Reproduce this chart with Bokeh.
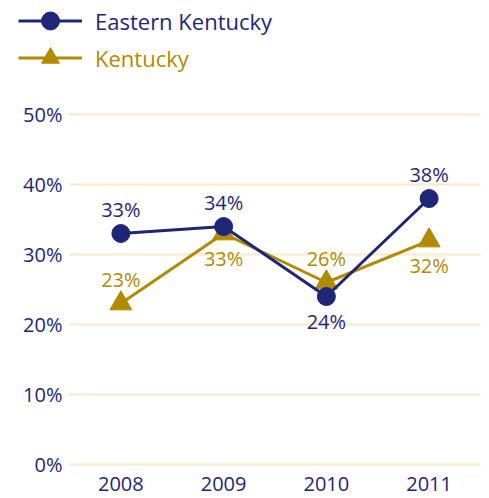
from bokeh.plotting import figure
from bokeh.models import ColumnDataSource, Legend, LegendItem, FixedTicker, CustomJSTickFormatter, Range1d
from bokeh.core.properties import value
from bokeh.embed import file_html
from bokeh.resources import INLINE

years = [2008, 2009, 2010, 2011]
eastern = [33, 34, 24, 38]
kentucky = [23, 33, 26, 32]
eastern_label_offsets = [-24, -24, 25, -24]
kentucky_label_offsets = [-24, 25, -24, 25]
y_ticks = [0, 10, 20, 30, 40, 50]
y_tick_labels = [f"{t}%" for t in y_ticks]
series_names = ["Eastern Kentucky", "Kentucky"]

NAVY = "#1f2577"
GOLD = "#b08a00"
GRID = "#fbe8cb"
FONT = "Open Sans"

# plotted span of the category axis (gridlines run across it)
X_LO, X_HI = 2007.5, 2011.5

p = figure(width=489, height=498, frame_width=489, frame_height=478,
           min_border_left=0, min_border_top=0, min_border_right=0, min_border_bottom=20,
           x_range=Range1d(2006.8285, 2011.5876), y_range=Range1d(-2.0, 66.29),
           y_axis_location=None,
           output_backend="svg", toolbar_location=None)
p.outline_line_color = None
p.xgrid.grid_line_color = None
p.ygrid.grid_line_color = None

p.xaxis.ticker = FixedTicker(ticks=years)
p.xaxis.formatter = CustomJSTickFormatter(code="return String(tick);")
p.xaxis.axis_line_color = None
p.xaxis.major_tick_line_color = None
p.xaxis.minor_tick_line_color = None
p.xaxis.major_label_text_color = NAVY
p.xaxis.major_label_text_font = FONT
p.xaxis.major_label_text_font_size = "20px"
p.xaxis.major_label_standoff = -8

# horizontal gridlines and their labels
grid_src = ColumnDataSource(dict(x0=[X_LO] * len(y_ticks), x1=[X_HI] * len(y_ticks),
                                 y=y_ticks, lab=y_tick_labels))
p.segment("x0", "y", "x1", "y", source=grid_src, line_color=GRID, line_width=2)
p.text("x0", "y", text="lab", source=grid_src, x_offset=-7, text_align="right", text_baseline="middle",
       text_color=NAVY, text_font=value(FONT), text_font_size="20px")

src_e = ColumnDataSource(dict(x=years, y=eastern, lab=[f"{v}%" for v in eastern], off=eastern_label_offsets))
src_k = ColumnDataSource(dict(x=years, y=kentucky, lab=[f"{v}%" for v in kentucky], off=kentucky_label_offsets))

lk = p.line("x", "y", source=src_k, line_color=GOLD, line_width=3)
mk = p.scatter("x", "y", source=src_k, marker="triangle", size=22, fill_color=GOLD, line_color=GOLD)
le = p.line("x", "y", source=src_e, line_color=NAVY, line_width=3)
me = p.scatter("x", "y", source=src_e, marker="circle", size=18, fill_color=NAVY, line_color=NAVY)

p.text("x", "y", text="lab", source=src_e, y_offset="off", text_align="center", text_baseline="middle",
       text_color=NAVY, text_font=value(FONT), text_font_size="20px")
p.text("x", "y", text="lab", source=src_k, y_offset="off", text_align="center", text_baseline="middle",
       text_color=GOLD, text_font=value(FONT), text_font_size="20px")

common = dict(orientation="vertical", glyph_width=64, glyph_height=45, label_height=45,
              label_standoff=13, padding=0, margin=0, border_line_color=None,
              background_fill_alpha=0, label_text_font=FONT, label_text_font_size="22px",
              label_text_baseline="middle")
leg1 = Legend(items=[LegendItem(label=series_names[0], renderers=[le, me])],
              location=(18, 435), label_text_color=NAVY, **common)
leg2 = Legend(items=[LegendItem(label=series_names[1], renderers=[lk, mk])],
              location=(18, 398), label_text_color=GOLD, **common)
p.add_layout(leg1)
p.add_layout(leg2)

open("out.html", "w").write(file_html(p, INLINE))
